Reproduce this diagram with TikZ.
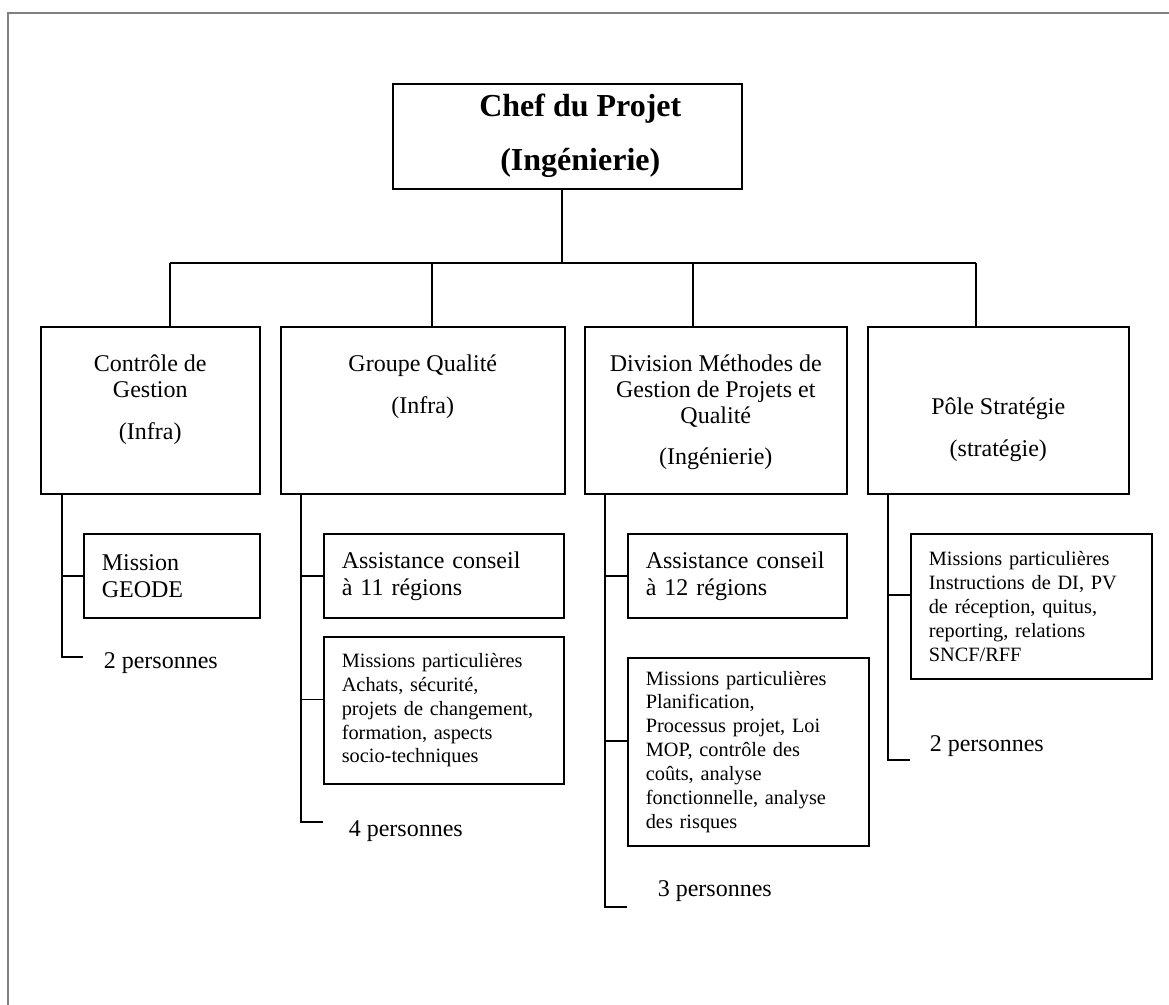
\documentclass[tikz,border=0pt]{standalone}
\usepackage{fontspec}
\setmainfont{Liberation Serif}
\usepackage{tikz}

\begin{document}
\begin{tikzpicture}[x=0.75pt, y=-0.75pt, line width=1.2pt,
    chefbox/.style={draw, anchor=north west, inner sep=0pt, font=\bfseries\fontsize{24}{40.5}\selectfont},
    unitbox/.style={draw, anchor=north west, inner sep=0pt, font=\fontsize{18}{19.5}\selectfont},
    taskbox/.style={draw, anchor=north west, align=left, inner xsep=13.5pt, inner ysep=0pt, font=\fontsize{18}{20.25}\selectfont},
    missionbox/.style={taskbox, font=\fontsize{15.25}{17.9}\selectfont},
    staff/.style={anchor=base west, inner sep=0pt, font=\fontsize{18}{20}\selectfont}]
    \useasboundingbox (0,0) rectangle (1169,1005);
    \draw[gray, line width=1.5pt] (8,1005) |- (1169,13);

    \node[chefbox] (chef) at (392,83) {\parbox[c][78.75pt][t]{261.75pt}{\centering\leftskip=19.5pt plus 1fil
        \rule{0pt}{24.75pt}Chef du Projet\\(Ingénierie)}};

    \node[unitbox] (ctrl) at (40,326) {\parbox[c][125.25pt][t]{164.25pt}{\centering
        \rule{0pt}{33.75pt}Contrôle de\\Gestion\\[12pt](Infra)}};
    \node[unitbox] (qual) at (280,326) {\parbox[c][125.25pt][t]{213pt}{\centering
        \rule{0pt}{33.75pt}Groupe Qualité\\[12pt](Infra)}};
    \node[unitbox] (meth) at (584,326) {\parbox[c][125.25pt][t]{196.5pt}{\centering
        \rule{0pt}{33.75pt}Division Méthodes de\\Gestion de Projets et\\Qualité\\[11pt](Ingénierie)}};
    \node[unitbox] (pole) at (867,326) {\parbox[c][125.25pt][t]{195.75pt}{\centering
        \rule{0pt}{66pt}Pôle Stratégie\\[12pt](stratégie)}};

    \node[taskbox, text width=105pt, minimum height=63pt] (geode) at (83,533) {Mission\\GEODE};
    \node[taskbox, text width=153pt, minimum height=63pt] (assist2) at (323,533) {Assistance conseil\\à 11 régions};
    \node[missionbox, text width=153pt, minimum height=110.25pt] (miss2) at (323,636)
        {Missions particulières\\Achats, sécurité,\\projets de changement,\\formation, aspects\\socio-techniques};
    \node[taskbox, text width=137.25pt, minimum height=63pt] (assist3) at (627,533) {Assistance conseil\\à 12 régions};
    \node[missionbox, text width=153.75pt, minimum height=141pt] (miss3) at (627,657)
        {Missions particulières\\Planification,\\Processus projet, Loi\\MOP, contrôle des\\coûts, analyse\\fonctionnelle, analyse\\des risques};
    \node[missionbox, text width=153.75pt, minimum height=108.75pt] (miss4) at (910,533)
        {Missions particulières\\Instructions de DI, PV\\de réception, quitus,\\reporting, relations\\SNCF/RFF};

    \node[staff] (staff1) at (103,668) {2 personnes};
    \node[staff] (staff2) at (348,836) {4 personnes};
    \node[staff] (staff3) at (657,896) {3 personnes};
    \node[staff] (staff4) at (929,751) {2 personnes};

    \coordinate (hub) at (562,263);
    \coordinate (d1) at (170,263);
    \coordinate (d2) at (432,263);
    \coordinate (d3) at (693,263);
    \coordinate (d4) at (976,263);
    \draw (chef.south -| hub) -- (hub);
    \draw (d1) -- (d4);
    \draw (d1) -- (d1 |- ctrl.north);
    \draw (d2) -- (d2 |- qual.north);
    \draw (d3) -- (d3 |- meth.north);
    \draw (d4) -- (d4 |- pole.north);

    \coordinate (t1) at (62,657);
    \coordinate (t2) at (301,822);
    \coordinate (t3) at (605,907);
    \coordinate (t4) at (888,760);
    \coordinate (b2) at ([yshift=8.25pt]miss2.west);
    \coordinate (b3) at ([yshift=8.25pt]miss3.west);
    \coordinate (b4) at ([yshift=8.6pt]miss4.west);

    \draw (t1 |- ctrl.south) -- (t1) -- (t1 -| geode.west);
    \draw (t1 |- geode.west) -- (geode.west);

    \draw (t2 |- qual.south) -- (t2) -- (t2 -| miss2.west);
    \draw (t2 |- assist2.west) -- (assist2.west);
    \draw (t2 |- b2) -- (b2);

    \draw (t3 |- meth.south) -- (t3) -- (t3 -| miss3.west);
    \draw (t3 |- assist3.west) -- (assist3.west);
    \draw (t3 |- b3) -- (b3);

    \draw (t4 |- pole.south) -- (t4) -- (t4 -| miss4.west);
    \draw (t4 |- b4) -- (b4);
\end{tikzpicture}
\end{document}
